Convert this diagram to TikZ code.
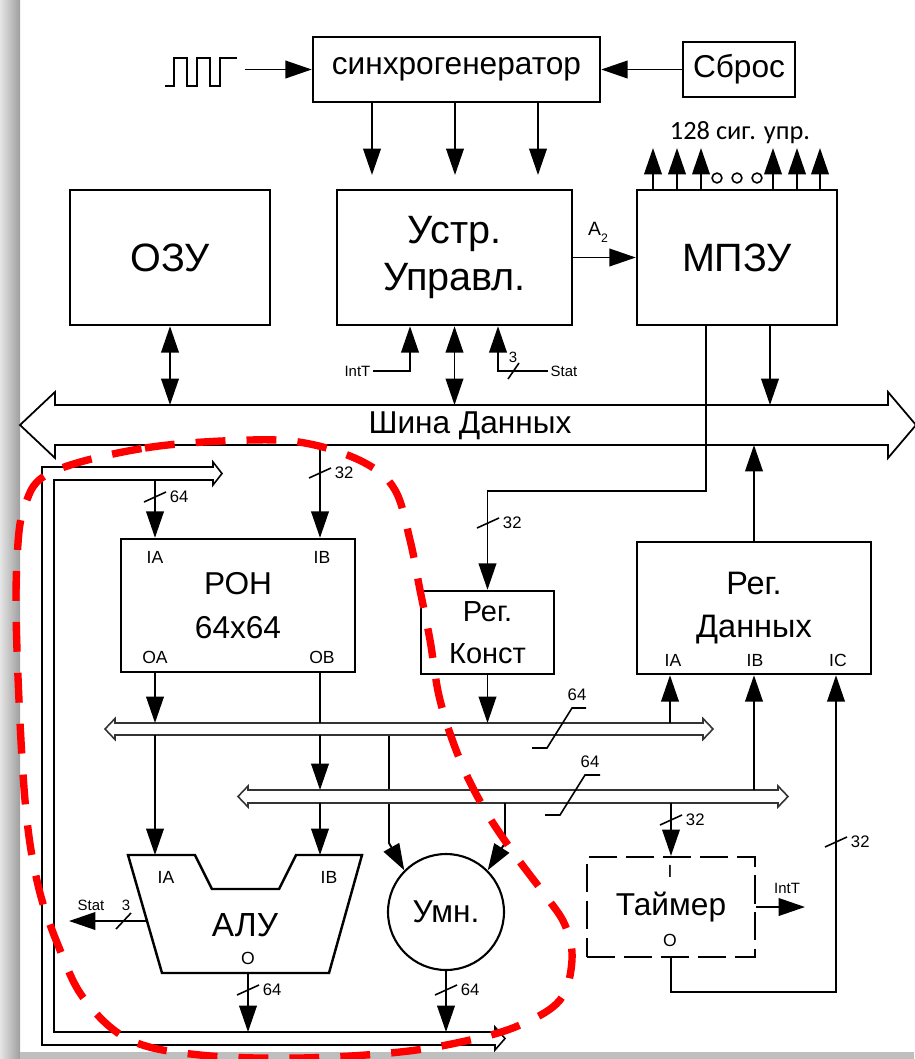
\documentclass[tikz,border=0pt]{standalone}
\usepackage{fontspec}
\setmainfont{Liberation Sans}
\newfontfamily\sigfont{Carlito}
\usetikzlibrary{arrows.meta}

\begin{document}
\begin{tikzpicture}[x=0.02cm,y=-0.02cm,>={Triangle[length=15pt,width=10pt]},line width=1.1pt,
  blk/.style={draw,line width=1.4pt,inner sep=0pt,align=center},
  big/.style={font=\fontsize{22.5}{27}\selectfont},
  mid/.style={font=\fontsize{18}{25}\selectfont},
  port/.style={font=\fontsize{10}{12}\selectfont,inner sep=0pt},
  num/.style={font=\fontsize{9.5}{11}\selectfont,inner sep=0pt},
  sml/.style={font=\fontsize{8.5}{10}\selectfont,inner sep=1pt},
  bus/.style={draw=black!80,fill=white,line width=0.9pt},
  wtick/.style={line width=0.9pt}]
\useasboundingbox (0,0) rectangle (914,1059);
% paper edge
\shade[left color=black!10,right color=black!38] (0,0) rectangle (20,1059);
\fill[black!25] (20,1052) rectangle (914,1059);

% levels
\coordinate (cutop) at (0,175);
\coordinate (sigtop) at (0,148);
\coordinate (busT) at (0,405);
\coordinate (busB) at (0,445);
\coordinate (b1t) at (0,723);
\coordinate (b1b) at (0,735);
\coordinate (b2t) at (0,790);
\coordinate (b2b) at (0,803);
\coordinate (alut) at (0,855);
\coordinate (loopB) at (0,1032);

% clock, sync, reset
\node[blk,mid,minimum width=5.74cm,minimum height=1.3cm] (sync) at (456.5,69.5) {синхрогенератор};
\node[blk,mid,minimum width=2.24cm,minimum height=1.1cm] (reset) at (739,69.5) {Сброс};
\draw (165,86) -- (174,86) -- (174,58) -- (187,58) -- (187,86) -- (197,86) -- (197,58)
  -- (210,58) -- (210,86) -- (220,86) -- (220,58) -- (237,58);
\coordinate (clk) at (245,69.5);
\draw[->] (clk) -- (sync.west);
\draw[->] (reset.west) -- (sync.east);

% upper blocks
\node[blk,big,minimum width=4cm,minimum height=2.7cm] (ram) at (170,257.5) {ОЗУ};
\node[blk,big,minimum width=4.7cm,minimum height=2.7cm] (cu) at (454.5,257.5) {Устр.\\Управл.};
\node[blk,big,minimum width=4cm,minimum height=2.7cm] (rom) at (737,257.5) {МПЗУ};
\foreach \x in {372,455,538}
  \draw[->] (sync.south -| \x,0) -- (cutop -| \x,0);
\foreach \x in {653,677,701,773,797,820}
  \draw[->] (rom.north -| \x,0) -- (sigtop -| \x,0);
\foreach \x in {717,737,757}
  \draw[line width=0.9pt] (\x,178) circle (2.8pt);
\node[font=\sigfont\fontsize{15}{18}\selectfont] (sig) at (740,133) {128 сиг. упр.};
\draw[->] (cu.east) -- (rom.west);
\node[font=\fontsize{11}{13}\selectfont] (a2) at (598,232) {A\raisebox{-4pt}{\fontsize{7}{8}\selectfont 2}};

% multiplier feed (under bus 2)
\coordinate (m1) at (389,843);
\coordinate (m2) at (505,843);
\node[draw,circle,line width=1.2pt,minimum size=2.32cm,inner sep=0pt,font=\fontsize{18}{22}\selectfont] (mul) at (446,912) {Умн.};
\draw[->] (m1 |- b1b) -- (m1) -- (mul.135);

% buses
\draw[bus,draw=black,line width=1pt] (55,405) -- (888,405) -- (888,392) -- (916,425) -- (888,458) -- (888,445)
  -- (55,445) -- (55,458) -- (20,425) -- (55,392) -- cycle;
\node[mid] (busname) at (470,426) {Шина Данных};
\draw[bus] (115,723) -- (703,723) -- (703,718.5) -- (713,729) -- (703,739.5) -- (703,735)
  -- (115,735) -- (115,739.5) -- (105,729) -- (115,718.5) -- cycle;
\draw[bus] (248,790) -- (778,790) -- (778,786) -- (788,796.5) -- (778,807) -- (778,803)
  -- (248,803) -- (248,807) -- (238,796.5) -- (248,786) -- cycle;
\draw[bus,draw=black] (213,462) -- (222,473.5) -- (213,485) -- (213,480) -- (54,480) -- (54,1032)
  -- (495,1032) -- (495,1027) -- (505,1038.5) -- (495,1050) -- (495,1045) -- (42,1045)
  -- (42,467) -- (213,467) -- cycle;

% control unit links
\draw[<->] (ram.south) -- (ram.south |- busT);
\draw[<->] (cu.south) -- (cu.south |- busT);
\node[sml,anchor=east] (intt1) at (373,371) {IntT};
\draw[->] (intt1.east) -| (cu.south -| 410,0);
\node[sml,anchor=west] (stat1) at (548,371) {Stat};
\draw[->] (stat1.west) -| (cu.south -| 498,0);
\draw[wtick] (508,379) -- (519,363);
\node[sml] (w3a) at (513,357) {3};
\draw[->] (rom.south -| 770,0) -- (busT -| 770,0);
\coordinate (kb) at (706,491);
\node[blk,font=\fontsize{16.5}{24}\selectfont,minimum width=2.66cm,minimum height=1.66cm] (rc) at (487.5,632.5) {Рег.\\Конст};
\draw[->] (rom.south -| kb) -- (kb) -| (rc.north);

% register file
\node[blk,mid,minimum width=4.68cm,minimum height=2.66cm] (ron) at (238,605.5) {РОН\\64x64};
\node[port] (ronIA) at (155,557) {IA};
\node[port] (ronIB) at (322,557) {IB};
\node[port] (ronOA) at (155,657) {OA};
\node[port] (ronOB) at (322,657) {OB};
\coordinate (iaR) at (155,480);
\coordinate (ibR) at (320,445);
\draw[->] (iaR) -- (iaR |- ron.north);
\draw[->] (ibR) -- (ibR |- ron.north);
\draw[->] (ron.south -| iaR) -- (b1t -| iaR);
\draw[->] (b1b -| iaR) -- (alut -| iaR);
\draw (ron.south -| ibR) -- (b1t -| ibR);
\draw[->] (b1b -| ibR) -- (b2t -| ibR);
\draw[->] (b2b -| ibR) -- (alut -| ibR);
\draw[->] (rc.south) -- (rc.south |- b1t);

% data register
\node[blk,font=\fontsize{18.5}{24}\selectfont,minimum width=4.68cm,minimum height=2.64cm] (rd) at (754,608) {Рег.\\Данных};
\node[port] (rdIA) at (673,660) {IA};
\node[port] (rdIB) at (755,660) {IB};
\node[port] (rdIC) at (838,660) {IC};
\draw[->] (rd.north) -- (rd.north |- busB);
\coordinate (rdA) at (670,723);
\draw[->] (rdA) -- (rdA |- rd.south);
\draw[->] (rd.south |- b2t) -- (rd.south);

% ALU
\draw[line width=1.4pt] (128,855) -- (195,855) -- (212,889) -- (279,889) -- (296,855) -- (362,855)
  -- (329,973) -- (162,973) -- cycle;
\node[font=\fontsize{19}{22}\selectfont] (alu) at (245,925) {АЛУ};
\node[port] (aluIA) at (166,877) {IA};
\node[port] (aluIB) at (329,877) {IB};
\node[port] (aluO) at (248,958) {O};
\coordinate (aluOut) at (248,973);
\draw[->] (aluOut) -- (aluOut |- loopB);
\coordinate (aluS) at (147,921);
\coordinate (statT) at (69,921);
\draw[->] (aluS) -- (statT);
\node[sml] (stat2) at (91,905) {Stat};
\draw[wtick] (116,929) -- (131,913);
\node[sml] (w3b) at (126,905) {3};

% multiplier
\draw[->] (m2 |- b2b) -- (m2) -- (mul.45);
\draw[->] (mul.south) -- (mul.south |- loopB);

% timer
\node[draw,dash pattern=on 16pt off 5pt,line width=1.3pt,minimum width=3.36cm,minimum height=2cm,
  font=\fontsize{18}{22}\selectfont] (tmr) at (671,907) {Таймер};
\node[port] (tmrI) at (670,871) {I};
\node[port] (tmrO) at (670,940) {O};
\draw[->] (tmr.north |- b2b) -- (tmr.north);
\coordinate (intt2) at (805,907);
\draw[->] (tmr.east) -- (intt2);
\node[sml] (intt2l) at (787,888) {IntT};
\coordinate (tb) at (836,992);
\draw[->] (tmr.south) |- (tb) -- (tb |- rd.south);

% bus widths
\foreach \px/\py/\t [count=\i] in {155/497/64,320/473/32,488/523/32,671/820/32,836/842/32,248/990/64,446/990/64}{
  \draw[wtick] (\px-11,\py+5) -- (\px+11,\py-5);
  \node[num,anchor=west] (w\i) at (\px+14,\py) {\t};
}
\draw[wtick] (532,748) -- (547,748) -- (572,708) -- (586,708);
\node[num] (w64a) at (577,695) {64};
\draw[wtick] (545,815) -- (560,815) -- (585,775) -- (600,775);
\node[num] (w64b) at (590,762) {64};

% marked area
\draw[red,line width=4.2pt,dash pattern=on 17pt off 12pt] plot[smooth cycle,tension=0.6] coordinates {
  (52,472) (145,448) (250,440) (310,444) (365,463) (395,490) (410,540) (420,590) (430,640)
  (440,700) (460,760) (485,810) (515,855) (545,895) (565,925) (572,960) (560,1000) (520,1025)
  (470,1040) (400,1052) (300,1058) (200,1055) (130,1040) (85,1000) (60,950) (38,885) (25,800)
  (17,650) (17,560) (25,505)};
\end{tikzpicture}
\end{document}
